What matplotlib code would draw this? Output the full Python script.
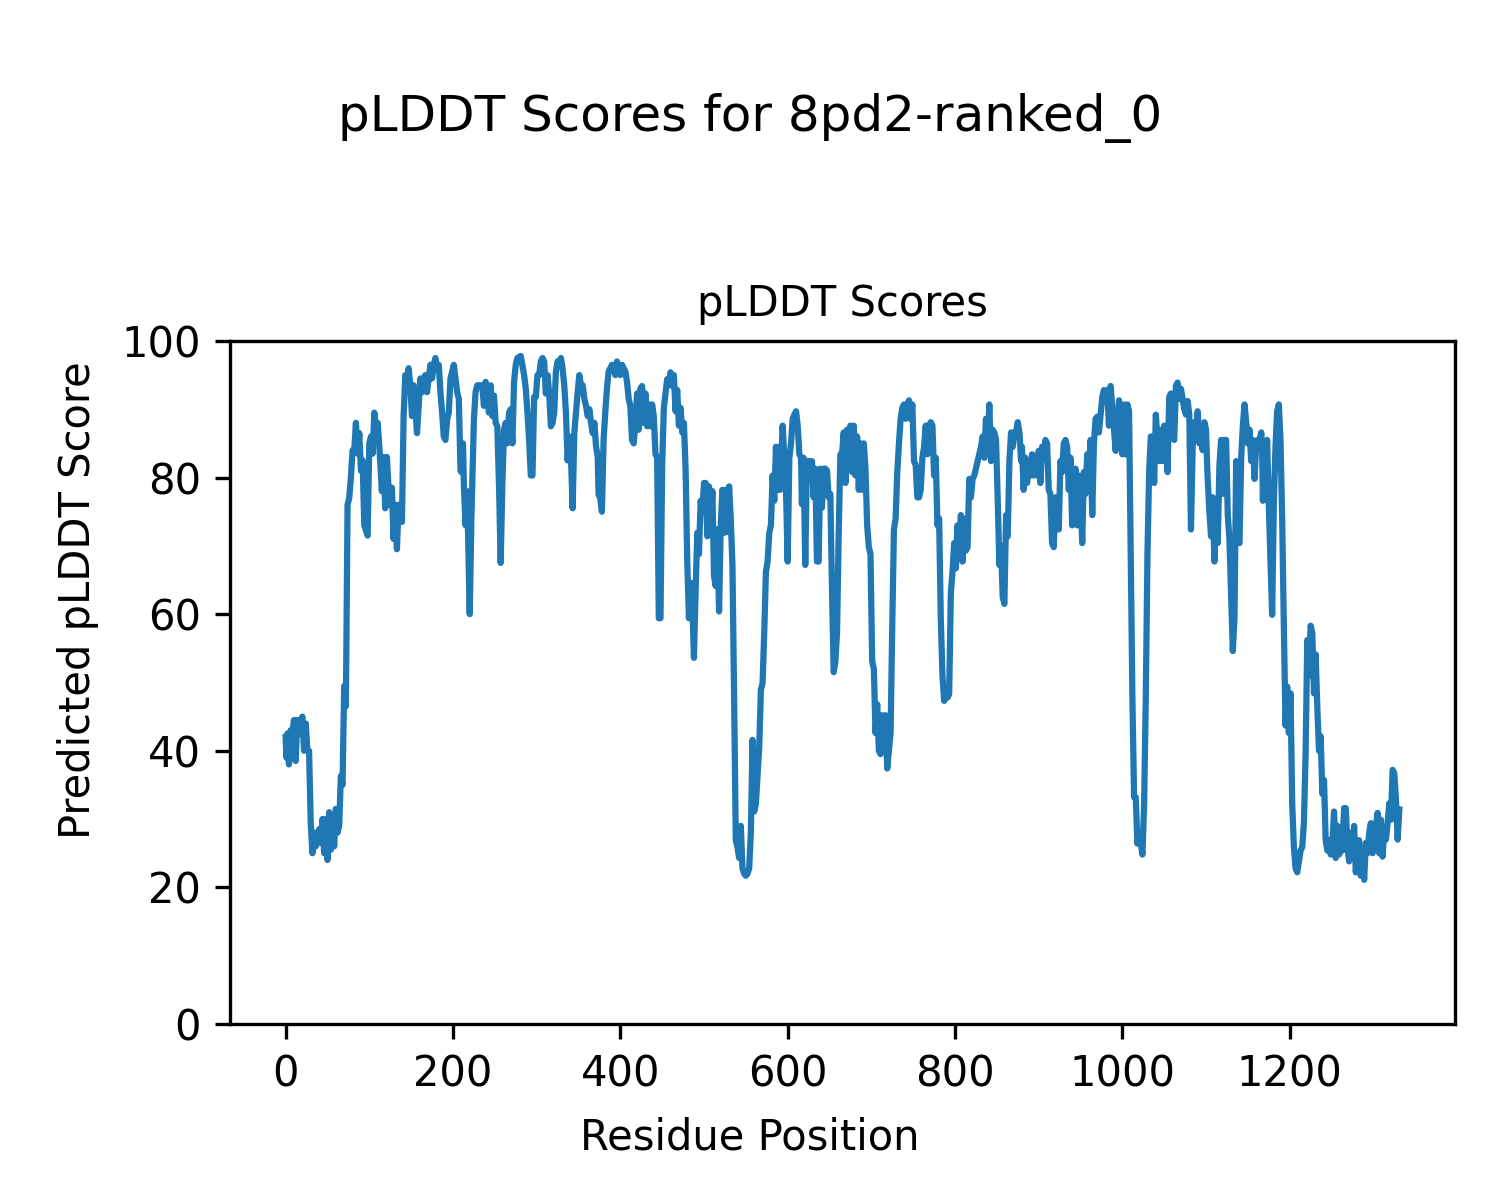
import matplotlib
matplotlib.use("Agg")
import matplotlib.pyplot as plt

title = "pLDDT Scores for 8pd2-ranked_0"
subtitle = "pLDDT Scores"
xlabel = "Residue Position"
ylabel = "Predicted pLDDT Score"

residues = [
    0, 1, 2, 4, 6, 8, 10, 12, 14, 16, 20, 22, 24, 26, 28, 30, 32, 34, 36, 40,
    42, 44, 46, 48, 50, 52, 54, 56, 58, 60, 62, 64, 66, 68, 70, 72, 74, 76, 78, 80,
    82, 84, 86, 88, 90, 92, 94, 98, 100, 102, 104, 106, 108, 110, 112, 115, 117, 119, 121, 123,
    125, 127, 129, 131, 133, 135, 137, 139, 141, 143, 145, 147, 149, 151, 153, 155, 157, 159, 161, 163,
    165, 167, 169, 171, 173, 175, 177, 179, 181, 183, 185, 187, 189, 191, 193, 195, 197, 199, 201, 203,
    205, 207, 209, 210, 212, 213, 215, 217, 220, 222, 225, 227, 229, 231, 235, 237, 239, 241, 243, 245,
    247, 249, 251, 253, 255, 257, 259, 261, 263, 265, 267, 269, 271, 273, 275, 277, 281, 285, 287, 289,
    291, 293, 295, 297, 299, 301, 303, 305, 307, 309, 311, 313, 315, 317, 319, 321, 323, 325, 327, 329,
    331, 333, 335, 337, 339, 341, 343, 345, 347, 349, 351, 353, 355, 357, 359, 361, 363, 365, 367, 369,
    371, 373, 374, 376, 378, 380, 382, 384, 386, 390, 392, 394, 396, 398, 400, 402, 404, 406, 408, 410,
    412, 414, 416, 418, 420, 422, 424, 426, 428, 430, 432, 434, 436, 438, 440, 442, 444, 446, 448, 450,
    452, 454, 456, 458, 460, 462, 464, 466, 468, 470, 472, 474, 476, 478, 480, 482, 484, 486, 488, 490,
    492, 494, 496, 498, 500, 502, 504, 506, 508, 510, 512, 514, 516, 518, 520, 522, 524, 526, 528, 530,
    532, 534, 536, 538, 540, 542, 544, 546, 548, 550, 552, 554, 556, 558, 560, 562, 564, 566, 568, 570,
    572, 574, 576, 578, 580, 582, 584, 586, 588, 590, 591, 594, 596, 598, 600, 602, 604, 606, 608, 610,
    612, 614, 616, 617, 619, 621, 623, 625, 627, 629, 631, 633, 635, 637, 639, 641, 643, 645, 647, 649,
    651, 653, 655, 657, 659, 661, 663, 665, 667, 669, 671, 673, 675, 677, 679, 681, 683, 685, 687, 689,
    691, 693, 695, 697, 699, 701, 703, 705, 707, 709, 711, 713, 715, 717, 719, 721, 723, 725, 727, 729,
    731, 733, 735, 737, 739, 741, 743, 745, 747, 749, 751, 753, 755, 757, 759, 761, 763, 765, 767, 769,
    771, 773, 775, 777, 779, 781, 783, 785, 787, 789, 791, 793, 795, 797, 799, 801, 803, 805, 807, 809,
    811, 813, 815, 817, 819, 821, 823, 825, 827, 829, 831, 833, 835, 837, 839, 841, 843, 845, 847, 849,
    851, 853, 855, 857, 859, 861, 863, 865, 867, 869, 871, 873, 875, 877, 879, 880, 882, 884, 886, 888,
    890, 892, 894, 896, 898, 900, 902, 904, 906, 908, 910, 912, 914, 916, 918, 920, 922, 924, 926, 928,
    930, 932, 934, 936, 938, 940, 942, 944, 946, 948, 950, 952, 954, 956, 958, 960, 962, 964, 966, 968,
    970, 972, 974, 976, 978, 980, 982, 984, 986, 988, 990, 992, 994, 996, 998, 1000, 1002, 1004, 1006, 1008,
    1010, 1012, 1014, 1016, 1018, 1020, 1022, 1024, 1026, 1028, 1030, 1032, 1034, 1036, 1038, 1040, 1042, 1044, 1046, 1048,
    1050, 1052, 1054, 1056, 1058, 1060, 1062, 1064, 1066, 1068, 1070, 1072, 1074, 1076, 1078, 1080, 1082, 1084, 1086, 1088,
    1090, 1092, 1094, 1096, 1098, 1100, 1101, 1102, 1104, 1106, 1108, 1110, 1112, 1114, 1116, 1118, 1120, 1122, 1124, 1126,
    1128, 1130, 1132, 1134, 1136, 1138, 1140, 1142, 1144, 1146, 1148, 1150, 1152, 1154, 1156, 1158, 1160, 1162, 1164, 1166,
    1167, 1168, 1169, 1171, 1173, 1175, 1177, 1179, 1181, 1183, 1185, 1187, 1189, 1191, 1193, 1195, 1197, 1199, 1201, 1203,
    1205, 1207, 1209, 1211, 1213, 1215, 1217, 1219, 1221, 1223, 1225, 1227, 1229, 1231, 1233, 1235, 1237, 1239, 1241, 1243,
    1245, 1247, 1249, 1251, 1253, 1255, 1257, 1259, 1261, 1263, 1265, 1267, 1269, 1271, 1273, 1275, 1277, 1279, 1281, 1283,
    1285, 1287, 1289, 1291, 1293, 1295, 1297, 1299, 1301, 1303, 1305, 1307, 1309, 1311, 1313, 1315, 1317, 1319, 1321, 1323,
    1325, 1327, 1329, 1331,
]

scores = [
    42, 39, 42.5, 38, 43, 42.5, 44.5, 38.5, 44.5, 42.5, 45, 40, 44, 40, 40, 29.5, 25, 28, 26, 28.5,
    26.5, 30, 25, 30, 24, 31, 25.5, 30.5, 26, 31.5, 28, 29, 36.3, 35, 49.5, 46.5, 76, 77, 80, 84,
    84, 88, 83.5, 86.5, 81, 82.5, 73, 71.5, 85, 86, 83.5, 89.5, 86.5, 88, 84.5, 78, 83, 75.5, 83, 78.5,
    76, 78.5, 71, 76, 69.5, 76, 76, 73.5, 89, 95, 93.5, 96, 93.5, 89, 93.5, 90.5, 86.5, 90.5, 94.5, 92.5,
    94.5, 95, 92.5, 94.5, 96.5, 94.5, 96.5, 97.5, 96, 96.5, 92.5, 89.5, 86, 85.5, 88.5, 89.5, 94.5, 95.5, 96.5, 94.5,
    92.5, 91.5, 81, 80.8, 85, 79, 73, 78, 60, 74, 88.5, 92.5, 93.5, 93.5, 93.5, 90.5, 94, 92, 89.5, 93.5,
    89, 92, 88, 87.5, 79, 67.5, 79, 87, 88, 85, 89.5, 90, 85, 94, 96.5, 97.5, 97.8, 95, 93, 89.5,
    85.5, 80.3, 80.3, 91.8, 91.8, 95, 95, 97, 97.5, 97, 92.3, 95, 92.3, 87.5, 88, 89.5, 95.5, 97, 96.5, 97.5,
    96, 93.5, 89.5, 82.5, 86, 83, 75.5, 86.5, 89.5, 92.5, 95, 93.5, 93.5, 91.5, 90.5, 89, 90, 88, 86.5, 88,
    84.5, 83, 77.5, 77, 75, 85.5, 89.5, 93, 95.5, 96.5, 96, 95, 97, 96, 95, 96.5, 96, 95.5, 94, 91.5,
    90.5, 85.5, 85, 88, 92.3, 87, 93, 93.4, 88, 92.3, 87.5, 90.7, 87.5, 90.7, 89, 83.4, 83, 59.4, 59.4, 81.8,
    90.2, 92.3, 94.4, 93.5, 95.4, 93.4, 95, 89.7, 92.8, 87.6, 90.2, 86.6, 88, 81.3, 67.7, 59.4, 64.6, 62, 53.6, 63.5,
    71.9, 68.8, 76.6, 75, 79.2, 79.2, 71.4, 78.7, 72, 78, 65.6, 64.1, 72.4, 60.4, 73, 78.2, 71.9, 78.2, 72, 78.7,
    74, 67.2, 47.8, 26.9, 25.9, 24.3, 29, 22.8, 22, 21.7, 22, 22.8, 28, 41.6, 31.1, 32.2, 36.3, 40.5, 48.9, 49.9,
    57.3, 66.2, 67.7, 71.9, 73, 80.3, 76.6, 84.5, 78.2, 84.5, 78.2, 87.6, 82.9, 78.2, 67.7, 82.9, 85, 88.6, 89.2, 89.7,
    87.6, 83.4, 82.9, 76.1, 82.9, 67.2, 82.4, 82.4, 82.4, 82.4, 77.1, 81.3, 67.7, 67.7, 81.3, 75.6, 81.3, 81.3, 81, 77.1,
    77.6, 63.5, 51.5, 53, 57.3, 71.9, 83.4, 83.4, 86.6, 79.2, 87, 81.8, 87.6, 80.8, 87.6, 80.3, 86, 78.2, 85, 78.2,
    85, 81.3, 73, 69.8, 68.8, 53.1, 52, 42.6, 46.8, 40, 39.5, 45.2, 40.5, 45.2, 37.4, 40, 42.6, 58.3, 72.4, 74,
    80.8, 85, 88.6, 90.2, 90.7, 88.6, 90.7, 91.3, 88.6, 90.7, 82.4, 81.8, 77.1, 77.1, 78.2, 82.9, 84.5, 87.6, 83.4, 87.6,
    88.1, 87.6, 80.3, 82.9, 73, 74, 59.4, 51, 47.3, 47.8, 47.8, 48.3, 63, 66.2, 70.4, 66.7, 73, 68.8, 74.5, 67.7,
    74, 69.3, 69.8, 79.8, 77.1, 79.8, 80.3, 81.3, 82.4, 83.4, 84.5, 86, 82.9, 88.6, 84.5, 90.7, 82.4, 87, 86.6, 85.5,
    77, 67.2, 70, 62.5, 61.5, 74.5, 71.4, 82.4, 86.6, 84.5, 86.6, 86.6, 88.1, 86.6, 82.4, 84.5, 78.2, 82.9, 79.2, 80.8,
    80.3, 83.4, 80.3, 81.8, 80.3, 83.9, 79.2, 84.5, 82.9, 85.5, 85, 78.2, 77.6, 70.4, 69.8, 77.1, 77.1, 72.4, 82.4, 80.8,
    85, 85.5, 84.5, 78.2, 82.9, 73, 76.6, 81.3, 73, 80.3, 78.2, 70.4, 80.8, 77.6, 83.4, 80.8, 85.5, 74.5, 85, 88.6,
    88.9, 86.6, 89.2, 91.8, 92.8, 91.3, 92.8, 87.6, 93.4, 90.2, 87, 83.9, 87, 91.3, 88.6, 83.4, 90.7, 83.4, 90.7, 89.7,
    68.8, 47.8, 33.2, 33.2, 26.4, 28, 26.4, 24.8, 32.2, 47.8, 68.8, 80.8, 86, 86, 79.2, 89.2, 85.5, 82.4, 87, 82.4,
    87.6, 86, 80.8, 91.8, 92.3, 86, 85.5, 93.4, 93.9, 91.5, 93, 91.5, 90, 89.2, 91.2, 89.2, 72.4, 84.5, 88.1, 87,
    89.7, 85, 86, 84, 88.1, 87, 83, 79.8, 75, 71.4, 77.1, 67.7, 75.5, 70.4, 81.8, 85.5, 77.6, 85.5, 85.5, 74.5,
    70.9, 63, 54.6, 59.4, 82.4, 70.9, 70.4, 82.9, 87.6, 90.7, 88.1, 85, 87, 82.4, 85.5, 79.8, 85, 85.5, 85.5, 86.6,
    84.5, 76.6, 84.5, 81.3, 85.5, 76, 67.7, 59.9, 76.1, 84.5, 89.7, 90.7, 85.5, 74, 58.3, 43.7, 49.4, 42.6, 48.4, 32.2,
    25.9, 22.8, 22.2, 23.8, 25.4, 25.9, 29.5, 39.5, 56.2, 51, 58.3, 57.2, 48.4, 54.1, 46.3, 40, 42.1, 33.7, 35.7, 26.9,
    25.4, 26.9, 24.8, 26.4, 31.1, 24.3, 29, 24.8, 26.9, 25.4, 31.6, 31.6, 25.9, 23.8, 28, 24.8, 29, 22.2, 25.9, 26.9,
    21.7, 24.8, 21.1, 26.5, 25, 28, 29.4, 25, 27.5, 28.9, 30.9, 25, 29.9, 24.5, 28.4, 27, 29.4, 32.3, 29.9, 37.2,
    36.7, 32.8, 27, 31.4,
]

fig = plt.figure(figsize=(5, 4), dpi=300)
ax = fig.add_axes([0.1533, 0.1467, 0.8167, 0.5692])
ax.plot(residues, scores, color="#1f77b4", linewidth=1.5)
ax.set_ylim(0, 100)
ax.set_title(subtitle, fontsize=10)
fig.supxlabel(xlabel, fontsize=10, x=0.5, y=0.0525, va="center")
fig.supylabel(ylabel, fontsize=10, x=0.052, y=0.5, ha="center", va="center")
fig.suptitle(title, fontsize=12, y=0.902, va="center")
fig.savefig("out.png", dpi=300)
